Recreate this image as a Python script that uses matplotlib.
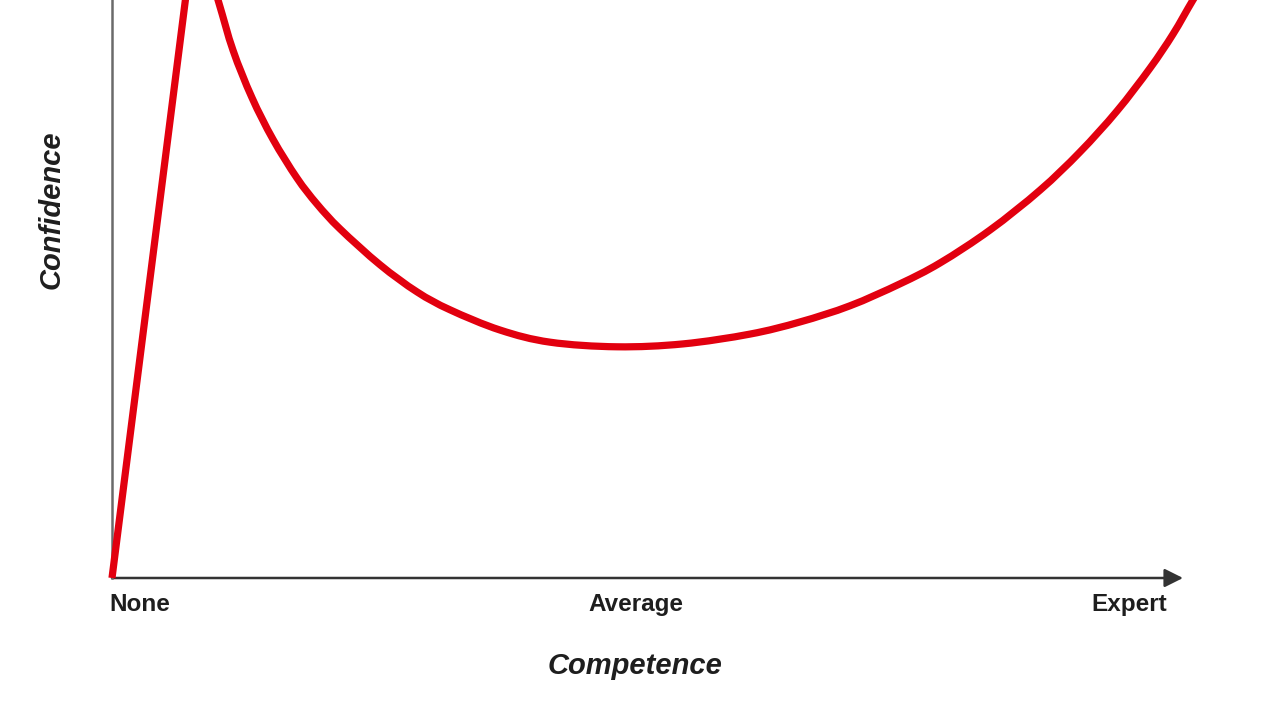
import numpy as np
import matplotlib.pyplot as plt
from matplotlib.path import Path
from matplotlib.patches import PathPatch

# competence (0 = none, 100 = end of axis) vs confidence (0..100 = top of frame)
# first two points: the straight rise up to the peak (above the frame)
rise_x = [0.0, 7.75]
rise_y = [0.0, 113.1]
# then the fall into the valley and the slow climb back up
curve_x = [7.75, 9.90, 11.30, 13.07, 15.03, 17.27, 19.14, 21.29, 25.02, 28.48,
           31.56, 36.23, 40.90, 47.15, 53.31, 59.57, 64.24, 68.91, 73.58, 77.31,
           81.98, 86.65, 90.38, 93.84, 96.92, 99.07, 100.93, 102.80]
curve_y = [113.1, 100.0, 91.3, 83.1, 75.9, 69.2, 64.7, 60.4, 54.2, 49.5,
           46.4, 42.9, 40.8, 40.0, 40.5, 42.2, 44.3, 47.1, 50.9, 54.5,
           60.2, 67.1, 73.7, 80.8, 88.2, 94.1, 100.0, 105.6]

tick_pos = [2.6, 48.9, 95.0]
tick_labels = ['None', 'Average', 'Expert']

W, H = 1280, 720
fig = plt.figure(figsize=(12.8, 7.2), dpi=100)
ax = fig.add_axes([112 / W, 142 / H, 1071 / W, 578 / H])
ax.set_xlim(0, 100)
ax.set_ylim(0, 100)

# smooth path through the read points (Catmull-Rom -> cubic bezier)
pts = np.column_stack([curve_x, curve_y])
verts = [(rise_x[0], rise_y[0]), (rise_x[1], rise_y[1])]
codes = [Path.MOVETO, Path.LINETO]
for i in range(len(pts) - 1):
    p0 = pts[i - 1] if i > 0 else pts[i]
    p1, p2 = pts[i], pts[i + 1]
    p3 = pts[i + 2] if i + 2 < len(pts) else pts[i + 1]
    c1 = p1 + (p2 - p0) / 6.0
    c2 = p2 - (p3 - p1) / 6.0
    verts += [tuple(c1), tuple(c2), tuple(p2)]
    codes += [Path.CURVE4] * 3
ax.add_patch(PathPatch(Path(verts, codes), fill=False, edgecolor='#e2000f',
                       lw=5.2, clip_on=False, joinstyle='round',
                       capstyle='butt', zorder=3))

for s in ['top', 'right', 'bottom']:
    ax.spines[s].set_visible(False)
ax.spines['left'].set_color('#6a6a6a')
ax.spines['left'].set_linewidth(1.8)
ax.set_xticks([])
ax.set_yticks([])

ax.annotate('', xy=(100, 0), xytext=(0, 0), xycoords='data',
            arrowprops=dict(arrowstyle='-|>', color='#333333', lw=1.8,
                            mutation_scale=28, shrinkA=0, shrinkB=0),
            annotation_clip=False, zorder=2)

font = 'Liberation Sans'
for p, lab in zip(tick_pos, tick_labels):
    ax.text(p, -4.6, lab, ha='center', va='center', fontsize=17.5,
            fontweight='bold', family=font, color='#1e1e1e')

fig.text(635 / W, 1 - 666 / H, 'Competence', ha='center', va='center',
         fontsize=21, fontweight='bold', style='italic', family=font, color='#1e1e1e')
fig.text(52 / W, 1 - 210 / H, 'Confidence', ha='center', va='center', rotation=90,
         fontsize=21, fontweight='bold', style='italic', family=font, color='#1e1e1e')

fig.savefig('out.png', dpi=100, facecolor='white')
